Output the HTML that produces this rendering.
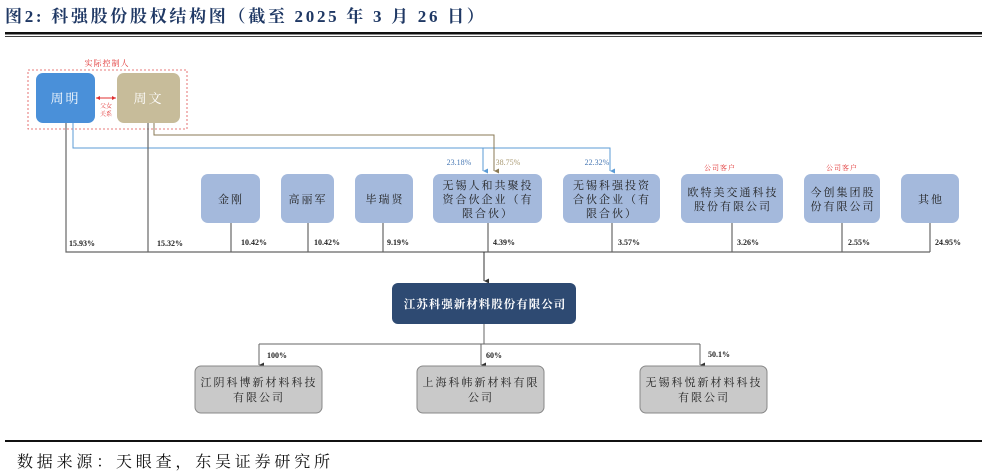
<!DOCTYPE html>
<html><head><meta charset="utf-8"><style>
body{margin:0;width:987px;height:476px;background:#fff;overflow:hidden}
svg{display:block}
text{font-family:"Liberation Serif","Noto Serif CJK SC",serif}
.b text{letter-spacing:2px}
</style></head><body>
<svg width="987" height="476" viewBox="0 0 987 476" xmlns="http://www.w3.org/2000/svg">
<defs>
<marker id="ab" markerWidth="6" markerHeight="6" refX="3" refY="5" orient="auto" markerUnits="userSpaceOnUse"><path d="M0.5,0 L3,5 L5.5,0" fill="#5b9bd5"/></marker>
<marker id="ak" markerWidth="6" markerHeight="6" refX="3" refY="5" orient="auto" markerUnits="userSpaceOnUse"><path d="M0.5,0 L3,5 L5.5,0" fill="#333"/></marker>
<marker id="an" markerWidth="6" markerHeight="6" refX="3" refY="5" orient="auto" markerUnits="userSpaceOnUse"><path d="M0.5,0 L3,5 L5.5,0" fill="#8a7a55"/></marker>
</defs>
<text x="5" y="22" font-size="17" font-weight="bold" fill="#1f3864" letter-spacing="2.7">图2:  科强股份股权结构图（截至 2025 年 3 月 26 日）</text>
<rect x="5" y="32" width="977" height="2.5" fill="#111"/>
<rect x="5" y="36" width="977" height="0.8" fill="#111"/>

<text x="107" y="66" font-size="8" fill="#e03030" text-anchor="middle" letter-spacing="1">实际控制人</text>
<rect x="28" y="70" width="159" height="59" fill="none" stroke="#e05050" stroke-dasharray="2,2" stroke-width="0.8"/>
<rect x="36" y="73" width="59" height="50" rx="7" fill="#4a90d9"/>
<text x="65.5" y="103" font-size="13" fill="#fff" text-anchor="middle" letter-spacing="2">周明</text>
<rect x="117" y="73" width="63" height="50" rx="7" fill="#c7bc9a"/>
<text x="148.5" y="103" font-size="13" fill="#fff" text-anchor="middle" letter-spacing="2">周文</text>
<line x1="96" y1="98" x2="116" y2="98" stroke="#e03030" stroke-width="1"/>
<path d="M96,98 l4,-2 v4z M116,98 l-4,-2 v4z" fill="#e03030"/>
<text x="106" y="108" font-size="6" fill="#e03030" text-anchor="middle">父女</text>
<text x="106" y="116" font-size="6" fill="#e03030" text-anchor="middle">关系</text>

<g stroke="#5b9bd5" stroke-width="1" fill="none">
<polyline points="73,123 73,148 610,148 610,171" marker-end="url(#ab)"/>
<line x1="483" y1="148" x2="483" y2="171" marker-end="url(#ab)"/>
</g>
<polyline points="154,123 154,135 494,135 494,171" stroke="#8a7a55" stroke-width="1" fill="none" marker-end="url(#an)"/>
<text x="459" y="165" font-size="8" fill="#4a7ab5" text-anchor="middle">23.18%</text>
<text x="508" y="165" font-size="8" fill="#a89870" text-anchor="middle">38.75%</text>
<text x="597" y="165" font-size="8" fill="#4a7ab5" text-anchor="middle">22.32%</text>
<text x="720" y="170" font-size="7" fill="#e03030" text-anchor="middle" letter-spacing="1">公司客户</text>
<text x="842" y="170" font-size="7" fill="#e03030" text-anchor="middle" letter-spacing="1">公司客户</text>

<g stroke="#666" stroke-width="1.2" fill="none">
<polyline points="66,123 66,252 930,252"/>
<line x1="148" y1="123" x2="148" y2="252"/>
<line x1="231" y1="223" x2="231" y2="252"/>
<line x1="308" y1="223" x2="308" y2="252"/>
<line x1="383" y1="223" x2="383" y2="252"/>
<line x1="488" y1="223" x2="488" y2="252"/>
<line x1="612" y1="223" x2="612" y2="252"/>
<line x1="732" y1="223" x2="732" y2="252"/>
<line x1="842" y1="223" x2="842" y2="252"/>
<line x1="930" y1="223" x2="930" y2="252"/>
</g>
<line x1="484" y1="252" x2="484" y2="281" stroke="#333" stroke-width="1" marker-end="url(#ak)"/>

<g fill="#a4b9dc">
<rect x="201" y="174" width="59" height="49" rx="7"/>
<rect x="281" y="174" width="53" height="49" rx="7"/>
<rect x="355" y="174" width="58" height="49" rx="7"/>
<rect x="433" y="174" width="109" height="49" rx="7"/>
<rect x="563" y="174" width="97" height="49" rx="7"/>
<rect x="681" y="174" width="102" height="49" rx="7"/>
<rect x="804" y="174" width="76" height="49" rx="7"/>
<rect x="901" y="174" width="58" height="49" rx="7"/>
</g>
<g class="b" font-size="11" fill="#222" text-anchor="middle">
<text x="231" y="203">金刚</text>
<text x="308" y="203">高丽军</text>
<text x="385" y="203">毕瑞贤</text>
<text x="488" y="189">无锡人和共聚投</text>
<text x="488" y="203">资合伙企业（有</text>
<text x="488" y="217">限合伙）</text>
<text x="612" y="189">无锡科强投资</text>
<text x="612" y="203">合伙企业（有</text>
<text x="612" y="217">限合伙）</text>
<text x="733" y="196">欧特美交通科技</text>
<text x="733" y="210">股份有限公司</text>
<text x="843" y="196">今创集团股</text>
<text x="843" y="210">份有限公司</text>
<text x="931" y="203">其他</text>
</g>
<g font-size="8" font-weight="bold" fill="#222">
<text x="69" y="246">15.93%</text>
<text x="157" y="246">15.32%</text>
<text x="241" y="245">10.42%</text>
<text x="314" y="245">10.42%</text>
<text x="387" y="245">9.19%</text>
<text x="493" y="245">4.39%</text>
<text x="618" y="245">3.57%</text>
<text x="737" y="245">3.26%</text>
<text x="848" y="245">2.55%</text>
<text x="935" y="245">24.95%</text>
</g>

<rect x="392" y="283" width="184" height="41" rx="6" fill="#2e4a72"/>
<text x="485" y="308" font-size="11.5" fill="#fff" text-anchor="middle" font-weight="bold" letter-spacing="1">江苏科强新材料股份有限公司</text>
<g stroke="#666" stroke-width="1" fill="none">
<line x1="484" y1="324" x2="484" y2="344"/>
<line x1="259" y1="344" x2="700" y2="344"/>
</g>
<g stroke="#666" stroke-width="1">
<line x1="259" y1="344" x2="259" y2="365" marker-end="url(#ak)"/>
<line x1="481" y1="344" x2="481" y2="365" marker-end="url(#ak)"/>
<line x1="700" y1="344" x2="700" y2="365" marker-end="url(#ak)"/>
</g>
<g font-size="8" font-weight="bold" fill="#222">
<text x="267" y="358">100%</text>
<text x="486" y="358">60%</text>
<text x="708" y="357">50.1%</text>
</g>
<g fill="#c9c9c9" stroke="#888" stroke-width="1">
<rect x="195" y="366" width="127" height="47" rx="6"/>
<rect x="417" y="366" width="127" height="47" rx="6"/>
<rect x="640" y="366" width="127" height="47" rx="6"/>
</g>
<g class="b" font-size="11" fill="#222" text-anchor="middle">
<text x="259" y="386" letter-spacing="1.5">江阴科博新材料科技</text>
<text x="259" y="401">有限公司</text>
<text x="481" y="386" letter-spacing="1.5">上海科帏新材料有限</text>
<text x="481" y="401">公司</text>
<text x="704" y="386" letter-spacing="1.5">无锡科悦新材料科技</text>
<text x="704" y="401">有限公司</text>
</g>

<rect x="5" y="440" width="977" height="2" fill="#111"/>
<text x="17" y="467" font-size="16" fill="#111" letter-spacing="3.8">数据来源：天眼查，东吴证券研究所</text>
</svg>
</body></html>
